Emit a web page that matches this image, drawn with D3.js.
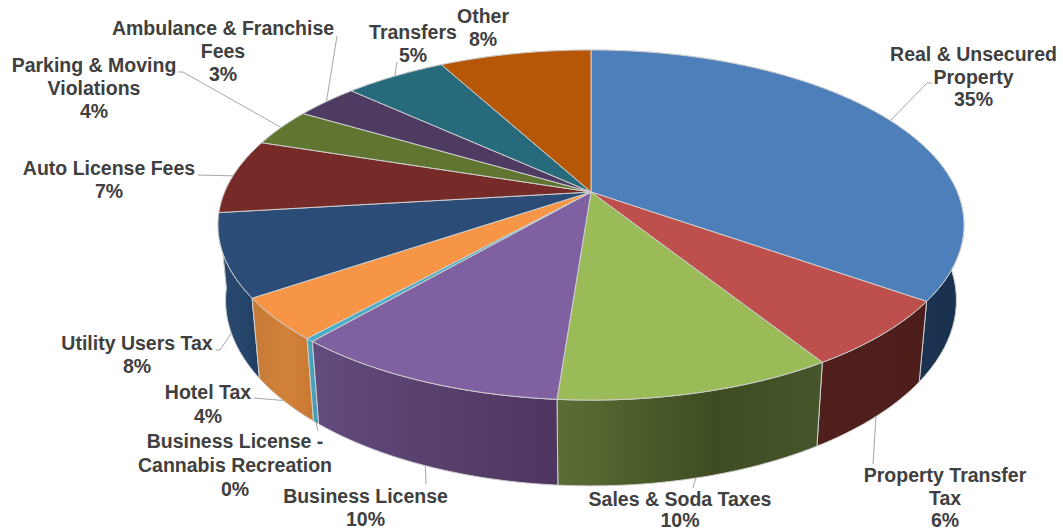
<!DOCTYPE html>
<html>
<head>
<meta charset="utf-8">
<script src="https://cdn.jsdelivr.net/npm/d3@7"></script>
<style>
html,body{margin:0;padding:0;background:#fff;}
svg{display:block;}
text{font-family:"Liberation Sans",Arial,sans-serif;font-weight:700;font-size:19.5px;fill:#404040;text-anchor:middle;}
</style>
</head>
<body>
<svg id="chart" width="1063" height="531"></svg>
<script>
const categories = ["Real & Unsecured Property","Property Transfer Tax","Sales & Soda Taxes","Business License","Business License - Cannabis Recreation","Hotel Tax","Utility Users Tax","Auto License Fees","Parking & Moving Violations","Ambulance & Franchise Fees","Transfers","Other"];
const values = [34.8,6.3,10.1,10.1,0.3,3.9,7.6,6.9,3.5,3.3,5.3,7.9];
const percentLabels = ["35%","6%","10%","10%","0%","4%","8%","7%","4%","3%","5%","8%"];
const topColors = ["#4d7fbb","#bd4f4c","#9bbb59","#7f60a0","#4bacc6","#f59545","#2b4c76","#772b28","#5f7530","#4d3b62","#276a7c","#b65708"];
const wallLeft = ["#1d3858","#4f1f1c","#5c6e34","#624b7e","#4aa6be","#c67b37","#28486f","#4f1f1c","#3f4d20","#33273f","#1a4652","#793a05"];
const wallMid = ["#1c3553","#4f1f1c","#3e4c22","#563e6a","#47a0b8","#d28139","#26466c","#4f1f1c","#3f4d20","#33273f","#1a4652","#793a05"];
const wallRight = ["#1a3250","#4c1d1a","#46552a","#4f3660","#459ab2","#c97830","#1f3d60","#4f1f1c","#3f4d20","#33273f","#1a4652","#793a05"];

// label text blocks and their leader lines (layout only)
const labelLines = [["Real & Unsecured","Property"],["Property Transfer","Tax"],["Sales & Soda Taxes"],["Business License"],["Business License -","Cannabis Recreation"],["Hotel Tax"],["Utility Users Tax"],["Auto License Fees"],["Parking & Moving","Violations"],["Ambulance & Franchise","Fees"],["Transfers"],["Other"]];
const labelX = [973.5,945,680,365.5,235,208,137,109,94,223,413,483];
const labelY = [61,482,506,503,448,399,350,175,72,35,39,23];
const lineGap = [22.5,22.5,21,23,24,24,23,23,23,23,22.5,23];
const leaderRim = [0,1,1,1,1,1,1,0,0,0,0,0];
const leaderOuter = [[[932,83],[927,83]],[[873,464]],[[693,488]],[[426,484]],[[318,431]],[[254,398]],[[216,350],[220,350]],[[198,175]],[[178,72],[183,72]],[[337,36]],[[397,62]],[]];

const apexX = 591, apexY = 192, A = 366.3, B = 168.8, K = 0.1887, C = 0.02, D = 75.5;
const project = (angle, radius, h) => {
  const u = Math.sin(angle) * radius, v = -Math.cos(angle) * radius;
  const w = 1 - K * v + C * h;
  return [apexX + A * u / w, apexY + (B * v + D * h) / w];
};
const sampleArc = (a0, a1, h) => d3.range(0, 61).map(i => project(a0 + (a1 - a0) * i / 60, 1, h));

const svg = d3.select("#chart");
const defs = svg.append("defs");
const pie = d3.pie().sort(null).startAngle(0).endAngle(2 * Math.PI);
const arcs = pie(values);
const line = d3.line();
const edge = "#cfcfcf";

// walls, back to front
const wallOrder = arcs.map((d, i) => i).sort((p, q) =>
  d3.max([arcs[p].startAngle, arcs[p].endAngle], a => -Math.cos(a)) -
  d3.max([arcs[q].startAngle, arcs[q].endAngle], a => -Math.cos(a)));
wallOrder.forEach(i => {
  const d = arcs[i];
  const top = sampleArc(d.startAngle, d.endAngle, 0);
  const bottom = sampleArc(d.startAngle, d.endAngle, 1);
  const xs = top.concat(bottom).map(p => p[0]);
  const g = defs.append("linearGradient").attr("id", "wall" + i)
    .attr("gradientUnits", "userSpaceOnUse")
    .attr("x1", d3.min(xs)).attr("x2", d3.max(xs)).attr("y1", 0).attr("y2", 0);
  g.append("stop").attr("offset", 0).attr("stop-color", wallLeft[i]);
  g.append("stop").attr("offset", 0.6).attr("stop-color", wallMid[i]);
  g.append("stop").attr("offset", 1).attr("stop-color", wallRight[i]);
  svg.append("path")
    .attr("d", line(top.concat(bottom.slice().reverse())) + "Z")
    .attr("fill", `url(#wall${i})`)
    .attr("stroke", edge).attr("stroke-width", 1).attr("stroke-linejoin", "round");
});

// top faces
arcs.forEach((d, i) => {
  const pts = [[apexX, apexY]].concat(sampleArc(d.startAngle, d.endAngle, 0));
  svg.append("path")
    .attr("d", line(pts) + "Z")
    .attr("fill", topColors[i])
    .attr("stroke", edge).attr("stroke-width", 1).attr("stroke-linejoin", "round");
});

// leaders
arcs.forEach((d, i) => {
  if (!leaderOuter[i].length) return;
  const mid = (d.startAngle + d.endAngle) / 2;
  const pts = leaderOuter[i].concat([project(mid, 1, leaderRim[i])]);
  svg.append("path").attr("d", line(pts)).attr("fill", "none")
    .attr("stroke", "#a6a6a6").attr("stroke-width", 1);
});

// labels
categories.forEach((c, i) => {
  const t = svg.append("text").attr("aria-label", c);
  const rows = labelLines[i].concat([percentLabels[i]]);
  rows.forEach((r, j) => {
    t.append("tspan").attr("x", labelX[i]).attr("y", labelY[i] + j * lineGap[i]).text(r);
  });
});
</script>
</body>
</html>
